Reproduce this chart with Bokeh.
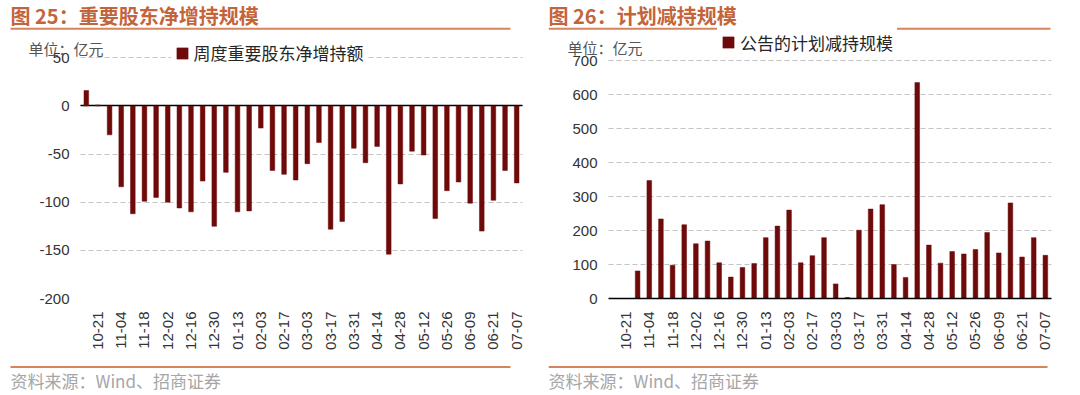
import math
from bokeh.plotting import figure
from bokeh.layouts import row, column
from bokeh.models import (Range1d, FixedTicker, Label, BoxAnnotation, Grid,
                          Legend, LegendItem, ColumnDataSource)
from bokeh.embed import file_html
from bokeh.resources import INLINE

# ---------------- data ----------------
tick_labels = ["10-21", "11-04", "11-18", "12-02", "12-16", "12-30", "01-13",
               "02-03", "02-17", "03-03", "03-17", "03-31", "04-14", "04-28",
               "05-12", "05-26", "06-09", "06-21", "07-07"]
net_increase = [16, 1, -30, -84, -112, -99, -95, -100, -106, -110,
                -78, -125, -69, -110, -109, -23, -67, -71, -77, -60,
                -38, -128, -120, -44, -59, -42, -154, -81, -47, -51,
                -117, -88, -79, -101, -130, -98, -67, -80]
planned_reduction = [0, 0, 81, 347, 234, 98, 217, 161, 169, 105,
                     63, 91, 103, 179, 213, 260, 105, 126, 179, 43,
                     3, 201, 263, 276, 100, 62, 635, 157, 104, 138,
                     131, 144, 194, 134, 281, 122, 179, 127]
left_title = "图 25：重要股东净增持规模"
right_title = "图 26：计划减持规模"
left_series = "周度重要股东净增持额"
right_series = "公告的计划减持规模"
unit_text = "单位：亿元"
source_text = "资料来源：Wind、招商证券"
left_yticks = [-200, -150, -100, -50, 0, 50]
right_yticks = [0, 100, 200, 300, 400, 500, 600, 700]

BAR = "#6E0A0A"
TITLE_C = "#C4643A"
RULE_C = "#D6845C"
CJK = "Noto Sans CJK SC"
LAT = "Liberation Sans"

n = len(net_increase)
xs = list(range(n))
label_pos = list(range(1, n, 2))
overrides = {p: t for p, t in zip(label_pos, tick_labels)}

PW = 540          # panel width
CH = 358          # chart figure height
FH = 395 - CH     # footer figure height
FRAME_H = 298     # frame height (frame bottom = data bottom)
ML = 8            # frame left inside each panel


def make_panel(values, ybot, ytop, yticks, title, series, g):
    ax_l, ax_r, ax_top = g["ax_l"], g["ax_r"], g["ax_top"]
    xpx = (ax_r - ax_l) / n
    x0 = -0.5 - (ax_l - ML) / xpx
    x1 = n - 0.5 + (PW - ax_r) / xpx
    ypx = (FRAME_H - ax_top) / (ytop - ybot)
    y1 = ybot + FRAME_H / ypx

    p = figure(width=PW, height=CH, output_backend="svg", toolbar_location=None,
               tools="", x_range=Range1d(x0, x1), y_range=Range1d(ybot, y1),
               min_border_left=ML, min_border_right=0, min_border_top=0,
               min_border_bottom=CH - FRAME_H)
    p.outline_line_color = None
    p.background_fill_color = "white"
    p.border_fill_color = "white"
    src = ColumnDataSource(dict(x=xs, v=values))
    r = p.vbar(x="x", top="v", bottom=0, width=0.4, source=src,
               fill_color=BAR, line_color=BAR, line_width=0.5)

    p.xgrid.visible = False
    grid = p.ygrid[0]
    grid.grid_line_color = "#C4C4C4"
    grid.grid_line_dash = "5 3"
    grid.grid_line_width = 1
    grid.cross_bounds = (-0.5, n - 0.5)

    yax = p.yaxis[0]
    yax.ticker = FixedTicker(ticks=yticks)
    yax.major_label_overrides = {t: str(t) for t in yticks}
    yax.axis_line_color = None
    yax.major_tick_line_color = None
    yax.minor_tick_line_color = None
    yax.major_tick_out = 0
    yax.major_tick_in = 0
    yax.major_label_standoff = -(ax_l - 11 - ML)
    yax.major_label_text_font = LAT
    yax.major_label_text_font_size = "15px"
    yax.major_label_text_color = "#333333"

    xax = p.xaxis[0]
    xax.ticker = FixedTicker(ticks=label_pos)
    xax.major_label_overrides = overrides
    xax.major_label_orientation = math.pi / 2
    xax.major_tick_line_color = None
    xax.minor_tick_line_color = None
    xax.major_tick_out = 0
    xax.major_tick_in = 0
    xax.major_label_standoff = 13
    xax.major_label_text_font = LAT
    xax.major_label_text_font_size = "15px"
    xax.major_label_text_color = "#333333"
    xax.bounds = (-0.5, n - 0.5)
    if ybot < 0:
        xax.axis_line_color = None
        zero = Grid(dimension=1, ticker=FixedTicker(ticks=[0]),
                    cross_bounds=(-0.5, n - 0.5), grid_line_color="black",
                    grid_line_width=1.5)
        p.add_layout(zero)
    else:
        xax.axis_line_color = "black"
        xax.axis_line_width = 1.5

    lx, ly = g["legend"]
    legend = Legend(items=[LegendItem(label=series, renderers=[r])],
                    location=(lx - ML, FRAME_H - ly), padding=4, margin=0, spacing=0,
                    glyph_width=14, glyph_height=14, label_height=14,
                    label_standoff=5, border_line_alpha=0,
                    background_fill_color="white", background_fill_alpha=1,
                    label_text_font=CJK, label_text_font_size="17px",
                    label_text_color="#262626")
    p.add_layout(legend, "center")

    ux, uy = g["unit"]
    p.add_layout(Label(x=ux - ML, y=FRAME_H - uy, x_units="screen", y_units="screen",
                       text=unit_text, text_font=CJK, text_font_size="15px",
                       text_color="#555555", text_baseline="middle"))
    tx, ty = g["title"]
    p.add_layout(Label(x=tx - ML, y=FRAME_H - ty, x_units="screen", y_units="screen",
                       text=title, text_font=CJK, text_font_size="20px",
                       text_font_style="bold", text_color=TITLE_C,
                       text_baseline="middle"))
    rl, rr, ry = g["rule_top"]
    p.add_layout(BoxAnnotation(left=rl - ML, right=rr - ML, bottom=FRAME_H - ry - 1,
                               top=FRAME_H - ry + 1, left_units="screen",
                               right_units="screen", bottom_units="screen",
                               top_units="screen", fill_color=RULE_C,
                               fill_alpha=1, line_alpha=0))

    # footer strip (its frame is aligned with the chart frame, which starts at ML)
    f = figure(width=PW, height=FH, output_backend="svg", toolbar_location=None,
               tools="", x_range=Range1d(0, 1), y_range=Range1d(0, 1),
               x_axis_location=None, y_axis_location=None, min_border=0)
    f.outline_line_color = None
    f.xgrid.visible = False
    f.ygrid.visible = False
    fl, fr, fy = g["rule_bot"]
    f.add_layout(BoxAnnotation(left=fl - ML, right=fr - ML, bottom=395 - fy - 1,
                               top=395 - fy + 1, left_units="screen",
                               right_units="screen", bottom_units="screen",
                               top_units="screen", fill_color=RULE_C,
                               fill_alpha=1, line_alpha=0))
    sx, sy = g["source"]
    f.add_layout(Label(x=sx - ML, y=395 - sy, x_units="screen", y_units="screen",
                       text=source_text, text_font=CJK, text_font_size="17px",
                       text_color="#A6A6A6", text_baseline="middle"))
    return column(p, f, spacing=0)


# pixel geometry of each panel (panel-local coordinates, origin top-left)
left_geo = dict(ax_l=80, ax_r=522, ax_top=57.3, legend=(170.5, 69),
                unit=(28, 48.3), title=(10, 15), rule_top=(10, 510, 28.3),
                rule_bot=(10, 510, 366.5), source=(10, 379.5))
right_geo = dict(ax_l=68, ax_r=510.7, ax_top=60, legend=(177, 58.5),
                 unit=(27, 46.5), title=(8, 15), rule_top=(8, 510, 28.3),
                 rule_bot=(8, 507, 366.5), source=(8, 379.5))

c1 = make_panel(net_increase, -200, 50, left_yticks, left_title, left_series, left_geo)
c2 = make_panel(planned_reduction, 0, 700, right_yticks, right_title, right_series, right_geo)

layout = row(c1, c2, spacing=0)
open("out.html", "w").write(file_html(layout, INLINE))
